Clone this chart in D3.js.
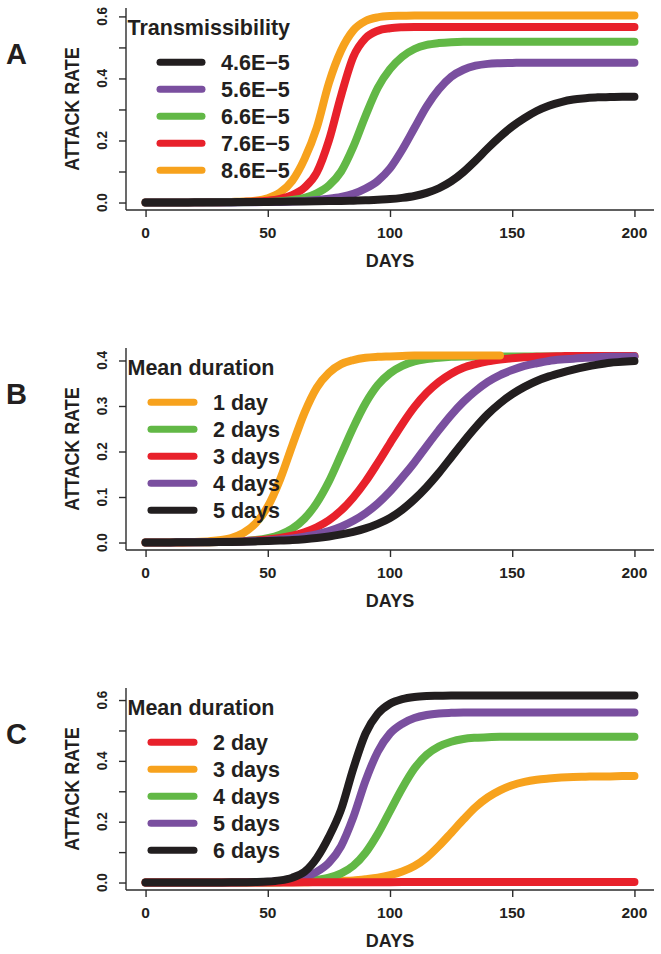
<!DOCTYPE html>
<html><head><meta charset="utf-8">
<script src="https://cdn.jsdelivr.net/npm/d3@7"></script>
<style>
body{margin:0;background:#fff}
svg{display:block}
text{font-family:"Liberation Sans",Arial,Helvetica,sans-serif;font-weight:bold;fill:#231f20}
</style>
</head><body>
<svg id="chart" width="661" height="954"></svg>
<script>
// ---------- DATA ----------
const days = [0,5,10,15,20,25,30,35,40,45,50,55,60,65,70,75,80,85,90,95,100,105,110,115,120,125,130,135,140,145,150,155,160,165,170,175,180,185,190,195,200];
const xTicks = [0,50,100,150,200];

// Panel A : transmissibility
const labelsA = ["4.6E\u22125","5.6E\u22125","6.6E\u22125","7.6E\u22125","8.6E\u22125"];
const a46 = [0,0,0,0.0003,0.0005,0.0008,0.001,0.0012,0.0015,0.0018,0.002,0.0025,0.003,0.0035,0.004,0.0045,0.005,0.006,0.007,0.009,0.011,0.015,0.021,0.031,0.046,0.068,0.098,0.135,0.175,0.212,0.245,0.272,0.295,0.312,0.324,0.332,0.336,0.339,0.34,0.341,0.341];
const a56 = [0,0,0,0,0,0,0,0.0003,0.0006,0.001,0.0015,0.002,0.003,0.005,0.008,0.012,0.018,0.028,0.045,0.07,0.11,0.17,0.24,0.31,0.365,0.405,0.428,0.441,0.447,0.449,0.45,0.451,0.451,0.451,0.451,0.451,0.451,0.451,0.451,0.451,0.451];
const a66 = [0,0,0,0,0,0.0003,0.0005,0.0008,0.001,0.0015,0.002,0.004,0.008,0.015,0.03,0.055,0.1,0.18,0.28,0.37,0.43,0.47,0.495,0.508,0.514,0.517,0.518,0.518,0.518,0.518,0.518,0.518,0.518,0.518,0.518,0.518,0.518,0.518,0.518,0.518,0.518];
const a76 = [0,0,0,0,0,0.0005,0.001,0.0015,0.002,0.003,0.006,0.012,0.024,0.048,0.096,0.2,0.345,0.47,0.53,0.554,0.562,0.565,0.566,0.566,0.566,0.566,0.566,0.566,0.566,0.566,0.566,0.566,0.566,0.566,0.566,0.566,0.566,0.566,0.566,0.566,0.566];
const a86 = [0,0,0,0,0.0005,0.0008,0.0012,0.002,0.003,0.006,0.014,0.032,0.07,0.14,0.24,0.385,0.49,0.555,0.585,0.597,0.601,0.602,0.603,0.603,0.603,0.603,0.603,0.603,0.603,0.603,0.603,0.603,0.603,0.603,0.603,0.603,0.603,0.603,0.603,0.603,0.603];
const yTicksA = [0,0.1,0.2,0.3,0.4,0.5,0.6];
const yTickLabelsA = ["0.0","","0.2","","0.4","","0.6"];

// Panel B : mean duration
const labelsB = ["1 day","2 days","3 days","4 days","5 days"];
const b1 = [0,0.0002,0.0004,0.0007,0.001,0.0023,0.0048,0.010,0.021,0.042,0.079,0.138,0.213,0.285,0.34,0.373,0.392,0.401,0.406,0.408,0.409,0.41,0.411,0.411,0.411,0.411,0.411,0.411,0.411,0.411];
const b2 = [0,0.0001,0.0002,0.0003,0.0004,0.0006,0.0009,0.0017,0.003,0.0054,0.0097,0.0173,0.0305,0.0525,0.0866,0.134,0.193,0.253,0.306,0.346,0.372,0.388,0.398,0.403,0.406,0.408,0.409,0.409,0.409,0.409,0.409,0.409,0.409,0.409,0.409,0.409,0.409,0.409,0.409,0.409,0.409];
const b3 = [0,0.0001,0.0002,0.0003,0.0005,0.0008,0.0012,0.0018,0.0028,0.0043,0.0066,0.01,0.015,0.0225,0.0335,0.0489,0.0705,0.0989,0.134,0.175,0.218,0.26,0.298,0.329,0.353,0.371,0.384,0.392,0.398,0.402,0.405,0.407,0.408,0.409,0.4095,0.41,0.41,0.41,0.41,0.41,0.41];
const b4 = [0,0.0001,0.0002,0.0004,0.0006,0.0009,0.0013,0.0018,0.0023,0.0033,0.0046,0.0065,0.0091,0.013,0.018,0.025,0.0347,0.0476,0.0643,0.0857,0.112,0.143,0.176,0.212,0.247,0.28,0.309,0.333,0.353,0.368,0.379,0.388,0.394,0.399,0.402,0.404,0.406,0.407,0.408,0.408,0.409];
const b5 = [0,0.0001,0.0003,0.0004,0.0006,0.0008,0.001,0.0014,0.0019,0.0025,0.0032,0.0042,0.0055,0.0074,0.0099,0.0133,0.0178,0.0236,0.031,0.041,0.054,0.072,0.095,0.122,0.153,0.187,0.221,0.253,0.282,0.306,0.326,0.342,0.355,0.365,0.373,0.38,0.386,0.391,0.395,0.397,0.399];
const yTicksB = [0,0.1,0.2,0.3,0.4];
const yTickLabelsB = ["0.0","0.1","0.2","0.3","0.4"];

// Panel C : mean duration
const labelsC = ["2 day","3 days","4 days","5 days","6 days"];
const c2 = [0,0,0,0,0,0,0,0,0,0,0.0002,0.0003,0.0004,0.0005,0.0006,0.0007,0.0008,0.0009,0.001,0.0011,0.0012,0.0013,0.0014,0.0015,0.0015,0.0016,0.0016,0.0017,0.0017,0.0018,0.0018,0.0018,0.0019,0.0019,0.0019,0.002,0.002,0.002,0.002,0.002,0.002];
const c3 = [0,0,0,0,0,0,0,0,0,0,0.0003,0.0005,0.0008,0.001,0.002,0.003,0.005,0.007,0.011,0.016,0.024,0.036,0.054,0.082,0.12,0.163,0.207,0.248,0.28,0.303,0.32,0.331,0.338,0.342,0.345,0.347,0.348,0.349,0.349,0.35,0.35];
const c4 = [0,0,0,0,0,0,0,0,0.0003,0.0005,0.0008,0.001,0.003,0.005,0.009,0.016,0.03,0.055,0.098,0.16,0.235,0.31,0.375,0.42,0.447,0.463,0.472,0.476,0.478,0.479,0.479,0.479,0.479,0.479,0.479,0.479,0.479,0.479,0.479,0.479,0.479];
const c5 = [0,0,0,0,0,0,0,0.0003,0.0006,0.001,0.002,0.004,0.008,0.017,0.035,0.065,0.12,0.215,0.335,0.43,0.49,0.522,0.541,0.551,0.556,0.558,0.559,0.559,0.559,0.559,0.559,0.559,0.559,0.559,0.559,0.559,0.559,0.559,0.559,0.559,0.559];
const c6 = [0,0,0,0,0,0,0.0003,0.0006,0.001,0.0015,0.003,0.007,0.016,0.035,0.08,0.15,0.24,0.375,0.49,0.555,0.588,0.603,0.61,0.613,0.614,0.615,0.615,0.615,0.615,0.615,0.615,0.615,0.615,0.615,0.615,0.615,0.615,0.615,0.615,0.615,0.615];
const yTicksC = [0,0.1,0.2,0.3,0.4,0.5,0.6];
const yTickLabelsC = ["0.0","","0.2","","0.4","","0.6"];

// ---------- STYLE ----------
const COL = {black:"#221e1f", purple:"#7a4f9f", green:"#62b846", red:"#e8212b", orange:"#f7a21d"};

const panels = [
  {letter:"A", top:8, title:"Transmissibility", labels:labelsA,
   series:[a46,a56,a66,a76,a86], colors:[COL.black,COL.purple,COL.green,COL.red,COL.orange],
   order:[4,3,2,1,0], yTicks:yTicksA, yLabels:yTickLabelsA, legX1:160, legX2:202, legTX:221},
  {letter:"B", top:348, title:"Mean duration", labels:labelsB,
   series:[b1,b2,b3,b4,b5], colors:[COL.orange,COL.green,COL.red,COL.purple,COL.black],
   order:[1,2,0,3,4], yTicks:yTicksB, yLabels:yTickLabelsB, legX1:151, legX2:194, legTX:213},
  {letter:"C", top:688, title:"Mean duration", labels:labelsC,
   series:[c2,c3,c4,c5,c6], colors:[COL.red,COL.orange,COL.green,COL.purple,COL.black],
   order:[1,2,3,0,4], yTicks:yTicksC, yLabels:yTickLabelsC, legX1:151, legX2:194, legTX:213}
];

const svg = d3.select("#chart");
const left = 126, right = 654, plotH = 202;
const x = d3.scaleLinear().domain([-8,208]).range([left,right]);
const axisCol = "#2b2b2b";

panels.forEach(p => {
  const top = p.top, bottom = top + plotH;
  const M = d3.max(p.series, s => d3.max(s));
  const y = d3.scaleLinear().domain([-0.04*M, 1.04*M]).range([bottom, top]);
  const g = svg.append("g");

  // curves
  const line = d3.line().x((d,i)=>x(days[i])).y(d=>y(d)).curve(d3.curveMonotoneX);
  p.order.forEach(k => {
    g.append("path").datum(p.series[k]).attr("d", line)
      .attr("fill","none").attr("stroke",p.colors[k]).attr("stroke-width",8)
      .attr("stroke-linecap","round").attr("stroke-linejoin","round");
  });

  // L-shaped box
  g.append("line").attr("x1",left).attr("x2",left).attr("y1",top).attr("y2",bottom)
    .attr("stroke",axisCol).attr("stroke-width",1.4);
  g.append("line").attr("x1",left).attr("x2",right).attr("y1",bottom).attr("y2",bottom)
    .attr("stroke",axisCol).attr("stroke-width",1.4);

  // x axis ticks
  const xa = g.append("g").attr("transform",`translate(0,${bottom})`)
    .call(d3.axisBottom(x).tickValues(xTicks).tickSize(7).tickFormat(""));
  xa.select(".domain").remove();
  xa.selectAll("line").attr("stroke",axisCol).attr("stroke-width",1.4);
  xTicks.forEach(t => {
    g.append("text").attr("x",x(t)).attr("y",bottom+28.3).attr("text-anchor","middle")
      .style("font-size","15.5px").text(t);
  });
  g.append("text").attr("x",(left+right)/2).attr("y",bottom+57).attr("text-anchor","middle")
    .style("font-size","18px").text("DAYS");

  // y axis ticks
  const ya = g.append("g").attr("transform",`translate(${left},0)`)
    .call(d3.axisLeft(y).tickValues(p.yTicks).tickSize(7).tickFormat(""));
  ya.select(".domain").remove();
  ya.selectAll("line").attr("stroke",axisCol).attr("stroke-width",1.4);
  p.yTicks.forEach((t,i) => {
    if (!p.yLabels[i]) return;
    g.append("text").attr("transform",`translate(107,${y(t)}) rotate(-90) scale(0.87,1)`)
      .attr("text-anchor","middle").style("font-size","15.5px").text(p.yLabels[i]);
  });
  g.append("text").attr("transform",`translate(79,${(top+bottom)/2}) rotate(-90) scale(0.92,1)`)
    .attr("text-anchor","middle").style("font-size","19.5px").text("ATTACK RATE");

  // panel letter
  g.append("text").attr("x",6).attr("y",top+56).style("font-size","29px").text(p.letter);

  // legend
  g.append("text").attr("x",127.5).attr("y",top+27).style("font-size","21.5px").text(p.title);
  p.labels.forEach((lab,i) => {
    const cy = top + 54.2 + i*27;
    g.append("line").attr("x1",p.legX1).attr("x2",p.legX2).attr("y1",cy).attr("y2",cy)
      .attr("stroke",p.colors[i]).attr("stroke-width",7).attr("stroke-linecap","round");
    g.append("text").attr("x",p.legTX).attr("y",cy+7.6).style("font-size","21.5px").text(lab);
  });
});
</script>
</body></html>
